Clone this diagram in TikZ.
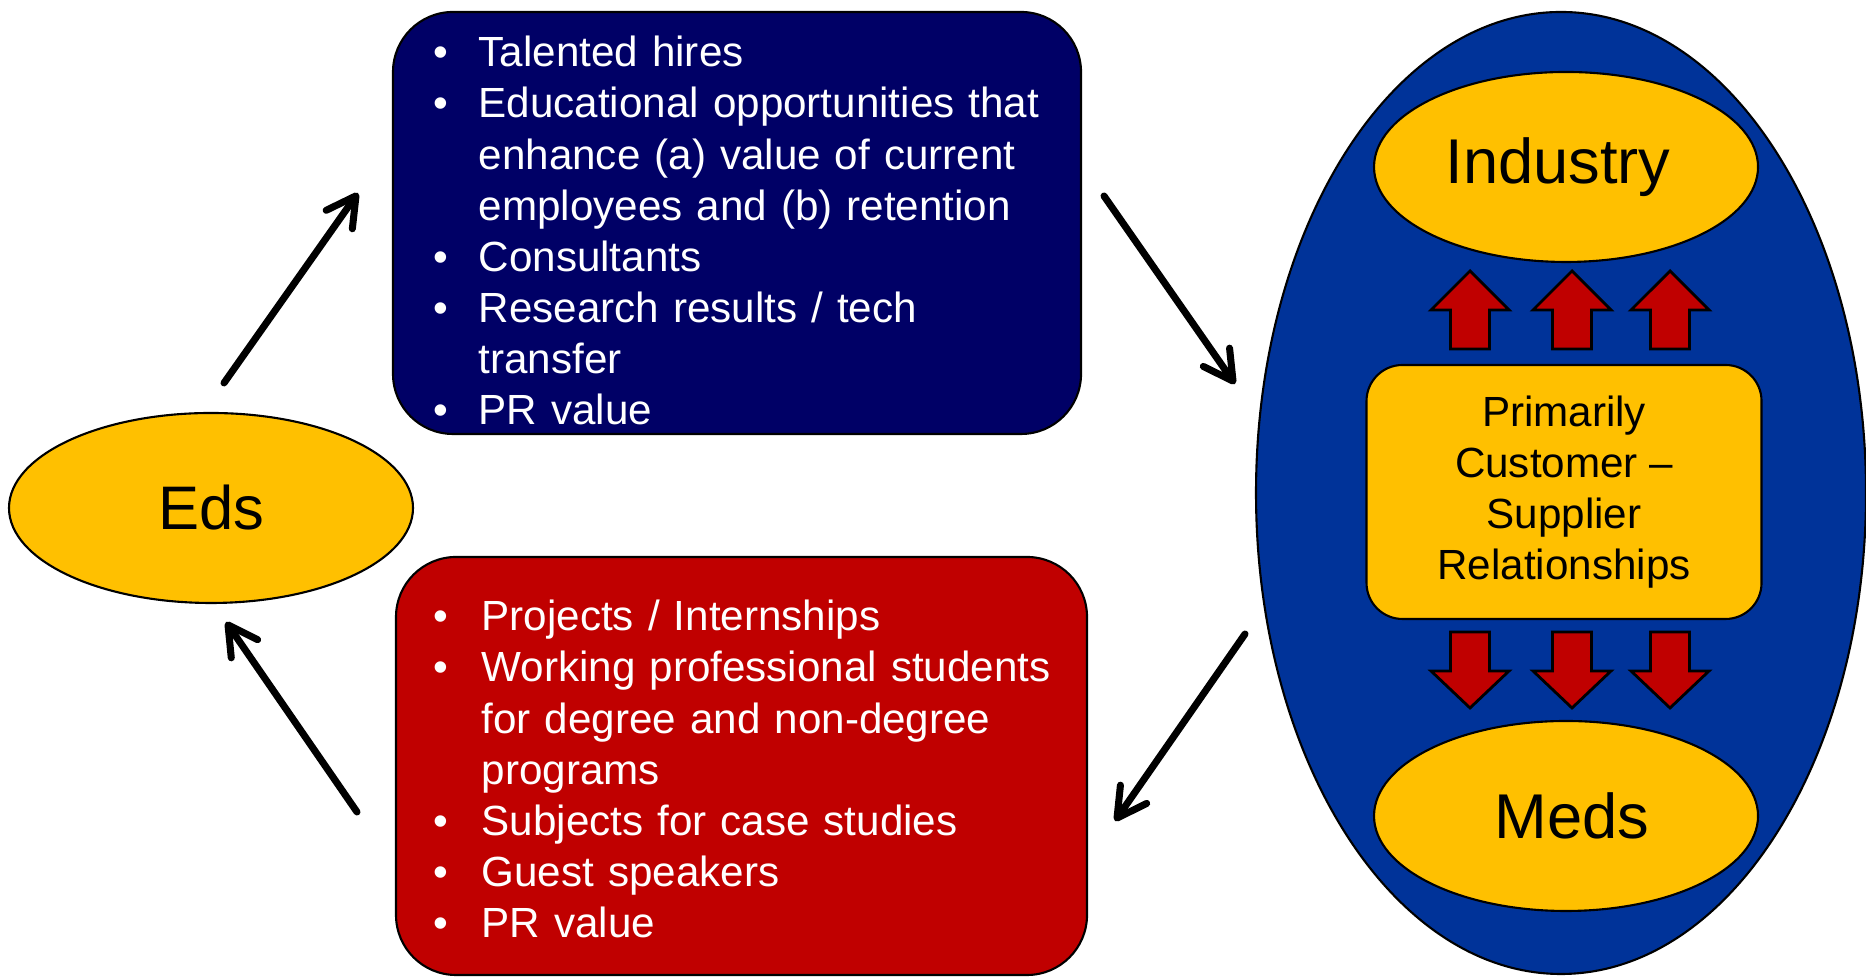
\documentclass[tikz,border=0pt]{standalone}
\usepackage{fontspec}
\setmainfont{Liberation Sans}
\usetikzlibrary{shapes.geometric,arrows.meta}
\definecolor{navybox}{HTML}{000066}
\definecolor{bigblue}{HTML}{003399}
\definecolor{goldfill}{HTML}{FFC000}
\definecolor{redbox}{HTML}{C00000}
\newcommand{\bul}[1][4.5mm]{\par\noindent\hangindent=#1\hangafter=1\makebox[#1][l]{\textbullet}\ignorespaces}

\begin{document}
\begin{tikzpicture}[
  yellowell/.style={ellipse, draw=black, line width=0.6pt, fill=goldfill, inner sep=0pt},
  listbox/.style={rectangle, rounded corners=6mm, draw=black, line width=0.6pt},
  listtext/.style={anchor=north west, inner sep=0pt, text width=7cm, align=left, text=white, font=\fontsize{12}{14.55}\selectfont},
  flow/.style={-{Straight Barb[length=2.9mm,width=3.2mm,round]}, line width=2pt, line cap=round},
  block/.style={draw=black, line width=0.8pt, fill=redbox}
]
\useasboundingbox (0,0) rectangle (18.66,9.77);

\node (eds) [yellowell, minimum width=4.04cm, minimum height=1.90cm, font=\fontsize{17.5}{21}\selectfont] at (2.11,4.69) {Eds};
\node (gives) [listbox, fill=navybox, minimum width=6.88cm, minimum height=4.22cm] at (7.37,7.54) {};
\node (gets) [listbox, fill=redbox, minimum width=6.91cm, minimum height=4.18cm] at (7.415,2.11) {};
\node (givestext) [listtext] at (4.33,9.62) {\bul Talented hires \bul Educational opportunities that\newline enhance (a) value of current\newline employees and (b) retention \bul Consultants \bul Research results / tech\newline transfer \bul PR value};
\node (getstext) [listtext] at (4.33,3.98) {\bul[4.8mm] Projects / Internships \bul[4.8mm] Working professional students\newline for degree and non-degree\newline programs \bul[4.8mm] Subjects for case studies \bul[4.8mm] Guest speakers \bul[4.8mm] PR value};

\node (sector) [ellipse, draw=black, line width=0.6pt, fill=bigblue, minimum width=6.10cm, minimum height=9.62cm] at (15.61,4.84) {};
\node (industry) [yellowell, minimum width=3.84cm, minimum height=1.90cm, font=\fontsize{18}{22}\selectfont] at (15.66,8.10) {\hspace*{-0.16cm}Industry};
\node (meds) [yellowell, minimum width=3.84cm, minimum height=1.90cm, font=\fontsize{18}{22}\selectfont] at (15.66,1.61) {\hspace*{0.12cm}Meds};
\node (relation) [rectangle, rounded corners=3.6mm, draw=black, line width=0.6pt, fill=goldfill, minimum width=3.95cm, minimum height=2.54cm, align=center, font=\fontsize{12}{14.55}\selectfont] at (15.64,4.85) {Primarily\\ Customer --\\ Supplier\\ Relationships};

\draw[block] (14.70,7.06) -- ++(0.39,-0.39) -- ++(-0.195,0) -- ++(0,-0.39) -- ++(-0.39,0) -- ++(0,0.39) -- ++(-0.195,0) -- cycle;
\draw[block] (15.72,7.06) -- ++(0.39,-0.39) -- ++(-0.195,0) -- ++(0,-0.39) -- ++(-0.39,0) -- ++(0,0.39) -- ++(-0.195,0) -- cycle;
\draw[block] (16.70,7.06) -- ++(0.39,-0.39) -- ++(-0.195,0) -- ++(0,-0.39) -- ++(-0.39,0) -- ++(0,0.39) -- ++(-0.195,0) -- cycle;
\draw[block] (14.70,2.69) -- ++(0.39,0.37) -- ++(-0.195,0) -- ++(0,0.39) -- ++(-0.39,0) -- ++(0,-0.39) -- ++(-0.195,0) -- cycle;
\draw[block] (15.72,2.69) -- ++(0.39,0.37) -- ++(-0.195,0) -- ++(0,0.39) -- ++(-0.39,0) -- ++(0,-0.39) -- ++(-0.195,0) -- cycle;
\draw[block] (16.70,2.69) -- ++(0.39,0.37) -- ++(-0.195,0) -- ++(0,0.39) -- ++(-0.39,0) -- ++(0,-0.39) -- ++(-0.195,0) -- cycle;

\coordinate (edsup) at (2.24,5.94);
\coordinate (givesin) at (3.58,7.84);
\coordinate (givesout) at (11.04,7.81);
\coordinate (sectorin) at (12.35,5.93);
\coordinate (sectorout) at (12.45,3.43);
\coordinate (getsin) at (11.15,1.56);
\coordinate (getsout) at (3.57,1.65);
\coordinate (edsin) at (2.26,3.55);
\draw[flow] (edsup) -- (givesin);
\draw[flow] (givesout) -- (sectorin);
\draw[flow] (sectorout) -- (getsin);
\draw[flow] (getsout) -- (edsin);
\end{tikzpicture}
\end{document}
